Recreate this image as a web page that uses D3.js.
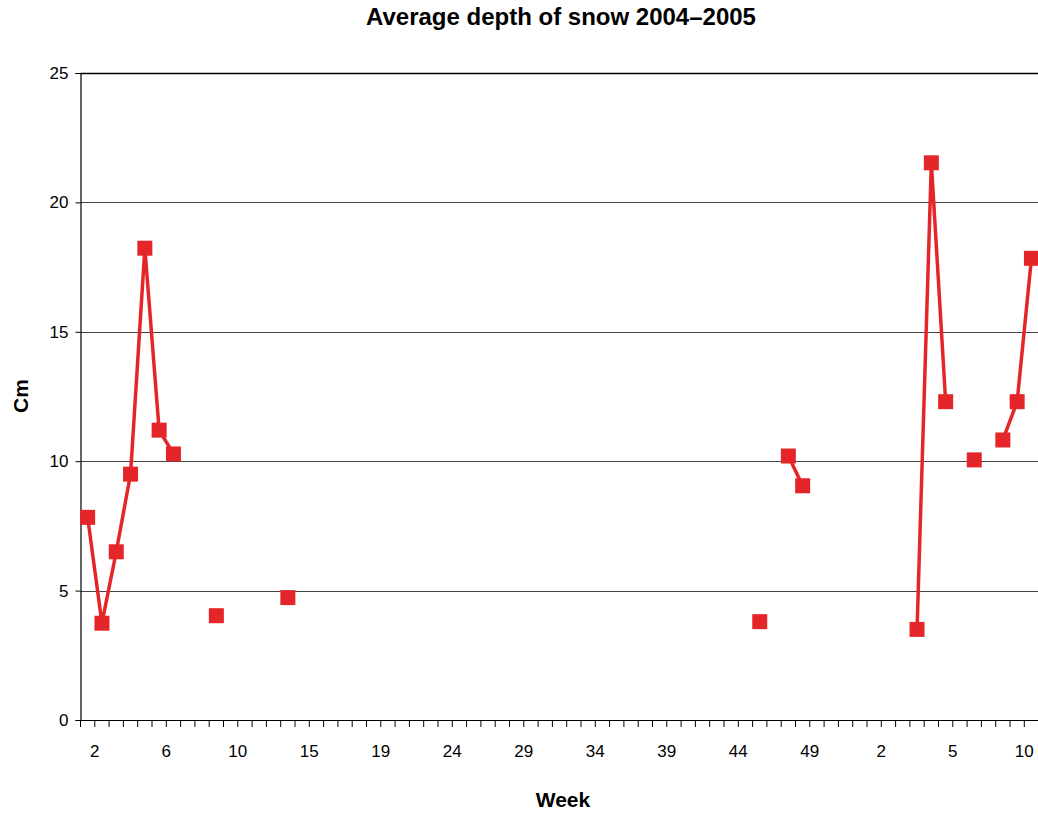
<!DOCTYPE html>
<html>
<head>
<meta charset="utf-8">
<script src="https://cdn.jsdelivr.net/npm/d3@7"></script>
<style>
  body { margin: 0; background: #fff; }
  svg { display: block; font-family: "Liberation Sans", Arial, sans-serif; }
</style>
</head>
<body>
<div id="chart"></div>
<script>
// one category per measurement, 67 in total (2004 week 1 .. 2005 week 10)
var nCats = 67
// average snow depth (cm) per category, null = no measurement
var depth = [
  7.83, 3.74, 6.5, 9.5, 18.23, 11.2, 10.28, null, null, 4.03,
  null, null, null, null, 4.73, null, null, null, null, null,
  null, null, null, null, null, null, null, null, null, null,
  null, null, null, null, null, null, null, null, null, null,
  null, null, null, null, null, null, null, 3.8, null, 10.2,
  9.05, null, null, null, null, null, null, null, 3.5, 21.53,
  12.3, null, 10.05, null, 10.82, 12.3, 17.84
]
// week labels shown on the axis and the category they sit on
var labelIdx = [1, 6, 11, 16, 21, 26, 31, 36, 41, 46, 51, 56, 61, 66]
var labelText = ["2", "6", "10", "15", "19", "24", "29", "34", "39", "44", "49", "2", "5", "10"]
var yTicks = [0, 5, 10, 15, 20, 25]

var width = 1038, height = 814
var plotLeft = 80.5, plotRight = 80.5 + nCats * 14.3, plotTop = 73, plotBottom = 720
var red = "#e4262a"

var svg = d3.select("#chart").append("svg")
            .attr("width", width)
            .attr("height", height)

var x = d3.scaleBand().domain(d3.range(nCats)).range([plotLeft, plotRight]).padding(0)
var y = d3.scaleLinear().domain([0, 25]).range([plotBottom, plotTop])

// gridlines
svg.selectAll(".grid")
   .data(yTicks.filter(d => d > 0))
   .join("line")
   .attr("x1", plotLeft).attr("x2", plotRight)
   .attr("y1", d => Math.round(y(d)) + 0.5)
   .attr("y2", d => Math.round(y(d)) + 0.5)
   .attr("stroke", d => d == 25 ? "#000" : "#444")
   .attr("stroke-width", d => d == 25 ? 1.5 : 1)

// y axis
var yAxis = svg.append("g")
               .attr("transform", "translate(" + plotLeft + ",0)")
               .call(d3.axisLeft(y).tickValues(yTicks).tickSize(5).tickPadding(7))
yAxis.select(".domain").attr("stroke", "#000").attr("stroke-width", 1.2)
yAxis.selectAll("text").attr("font-size", 17).attr("fill", "#000")
     .attr("font-family", "Liberation Sans, Arial, sans-serif")

// x axis: ticks on category boundaries, labels on chosen boundaries
svg.append("line")
   .attr("x1", plotLeft).attr("x2", plotRight)
   .attr("y1", plotBottom + 0.5).attr("y2", plotBottom + 0.5)
   .attr("stroke", "#000").attr("stroke-width", 1.2)

svg.selectAll(".xtick")
   .data(d3.range(nCats + 1))
   .join("line")
   .attr("x1", d => (d < nCats ? x(d) : plotRight))
   .attr("x2", d => (d < nCats ? x(d) : plotRight))
   .attr("y1", plotBottom).attr("y2", plotBottom + 7)
   .attr("stroke", "#000").attr("stroke-width", 1)

svg.selectAll(".xlabel")
   .data(labelIdx)
   .join("text")
   .text((d, i) => labelText[i])
   .attr("x", d => x(d))
   .attr("y", 757)
   .attr("text-anchor", "middle")
   .attr("font-size", 17)

// line + markers
var line = d3.line()
             .defined(d => d != null)
             .x((d, i) => x(i) + x.bandwidth() / 2)
             .y(d => y(d))

svg.append("path")
   .datum(depth)
   .attr("d", line)
   .attr("fill", "none")
   .attr("stroke", red)
   .attr("stroke-width", 3.5)
   .attr("stroke-linejoin", "miter")

var pts = depth.map((v, i) => ({ i: i, v: v })).filter(d => d.v != null)
var ms = 15
svg.selectAll(".pt")
   .data(pts)
   .join("rect")
   .attr("x", d => x(d.i) + x.bandwidth() / 2 - ms / 2)
   .attr("y", d => y(d.v) - ms / 2)
   .attr("width", ms).attr("height", ms)
   .attr("fill", red)

// titles
svg.append("text")
   .text("Average depth of snow 2004\u20132005")
   .attr("x", 561).attr("y", 25)
   .attr("text-anchor", "middle")
   .attr("font-size", 24).attr("font-weight", "bold")

svg.append("text")
   .text("Week")
   .attr("x", 563).attr("y", 807)
   .attr("text-anchor", "middle")
   .attr("font-size", 21).attr("font-weight", "bold")

svg.append("text")
   .text("Cm")
   .attr("transform", "translate(28,396) rotate(-90)")
   .attr("text-anchor", "middle")
   .attr("font-size", 21).attr("font-weight", "bold")
</script>
</body>
</html>
